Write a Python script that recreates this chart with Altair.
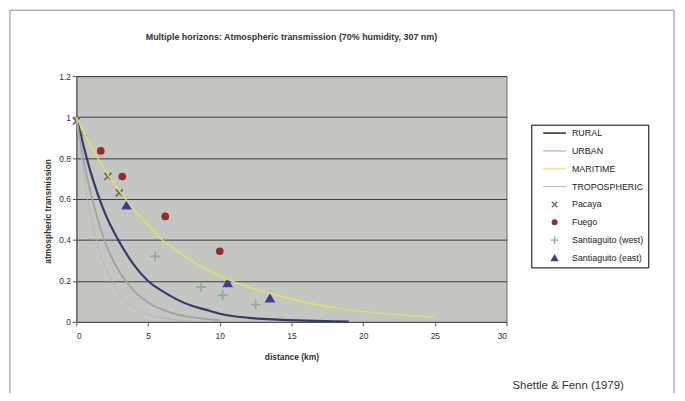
import altair as alt
import pandas as pd
import math

# ---------------- data ----------------
series_names = ["RURAL", "URBAN", "MARITIME", "TROPOSPHERIC",
                "Pacaya", "Fuego", "Santiaguito (west)", "Santiaguito (east)"]
series_colors = ["#343b6c", "#a2a2a2", "#e2e25a", "#b4b4c8",
                 "#7c5a6c", "#9a2a2a", "#8fa8a0", "#3c3ca0"]

rural_x = [0, 1, 2, 3, 4, 5, 6, 7, 8, 9, 10, 12, 14, 16, 18, 19]
rural_y = [1.0, 0.73, 0.53, 0.39, 0.28, 0.20, 0.15, 0.11, 0.08, 0.06, 0.04, 0.02, 0.011, 0.006, 0.003, 0.002]

urban_x = [0, 0.5, 1, 1.5, 2, 3, 4, 5, 6, 7, 8, 10]
urban_y = [1.0, 0.79, 0.63, 0.50, 0.39, 0.245, 0.153, 0.095, 0.06, 0.037, 0.023, 0.009]

maritime_x = [0, 1, 2, 3, 4, 5, 6, 7, 8, 9, 10, 11, 12, 14, 16, 18, 20, 22, 25]
maritime_y = [1.0, 0.86, 0.74, 0.64, 0.55, 0.475, 0.40, 0.35, 0.30, 0.26, 0.225, 0.195, 0.17, 0.13, 0.095, 0.07, 0.05, 0.037, 0.024]

tropo_x = [0, 0.5, 1, 1.5, 2, 3, 4, 5, 6, 8]
tropo_y = [1.0, 0.72, 0.52, 0.37, 0.27, 0.14, 0.07, 0.037, 0.019, 0.005]

pacaya_x = [0.0, 2.2, 3.0]
pacaya_y = [0.98, 0.71, 0.63]
fuego_x = [1.7, 3.2, 6.2, 10.0]
fuego_y = [0.835, 0.71, 0.515, 0.345]
west_x = [0.4, 5.5, 8.7, 10.2, 12.5]
west_y = [0.91, 0.32, 0.17, 0.13, 0.085]
east_x = [3.5, 10.55, 13.5]
east_y = [0.57, 0.19, 0.115]

x_ticks = [0, 5, 10, 15, 20, 25, 30]
y_ticks = [0, 0.2, 0.4, 0.6, 0.8, 1.0, 1.2]

title_text = "Multiple horizons: Atmospheric transmission (70% humidity, 307 nm)"
x_title = "distance (km)"
y_title = "atmospheric transmission"
credit_text = ["Shettle & Fenn (1979)"]

# ---------------- tables ----------------
curves = [("RURAL", rural_x, rural_y), ("URBAN", urban_x, urban_y),
          ("MARITIME", maritime_x, maritime_y), ("TROPOSPHERIC", tropo_x, tropo_y)]
line_rows = []
for name, xs, ys in curves:
    for i, (a, b) in enumerate(zip(xs, ys)):
        line_rows.append({"series": name, "distance": a, "trans": b, "order": i})
lines_df = pd.DataFrame(line_rows)

obs = [("Pacaya", pacaya_x, pacaya_y), ("Fuego", fuego_x, fuego_y),
       ("Santiaguito (west)", west_x, west_y), ("Santiaguito (east)", east_x, east_y)]
pt_rows = []
for name, xs, ys in obs:
    for a, b in zip(xs, ys):
        pt_rows.append({"series": name, "distance": a, "trans": b})
points_df = pd.DataFrame(pt_rows)

# ---------------- symbol shapes ----------------
def poly(pts):
    return "M" + "L".join(f"{x:.3f},{y:.3f}" for x, y in pts) + "Z"

w = 0.17
plus_pts = [(-1, -w), (-w, -w), (-w, -1), (w, -1), (w, -w), (1, -w),
            (1, w), (w, w), (w, 1), (-w, 1), (-w, w), (-1, w)]
s2 = math.sqrt(2)
x_pts = [((a - b) / s2 * 1.3, (a + b) / s2 * 1.3) for a, b in plus_pts]
PLUS = poly([(a * 1.3, b * 1.3) for a, b in plus_pts])
XSHAPE = poly(x_pts)
L = 3.85
LINE_THICK = poly([(-L, -0.28), (L, -0.28), (L, 0.28), (-L, 0.28)])
LINE_THIN = poly([(-L, -0.17), (L, -0.17), (L, 0.17), (-L, 0.17)])
TRI = "M0,-1.3L1.4,1.1L-1.4,1.1Z"
series_shapes = [LINE_THICK, LINE_THIN, LINE_THIN, LINE_THIN, XSHAPE, "circle", PLUS, TRI]

FONT = "Liberation Sans"

legend = alt.Legend(
    title=None, orient="none", legendX=459, legendY=49,
    fillColor="white", strokeColor="#000000", padding=4,
    symbolSize=36, symbolStrokeWidth=0, symbolOffset=15, labelOffset=13,
    rowPadding=8, labelFont=FONT, labelFontSize=9, labelColor="#222222",
    labelLimit=200,
)

x_enc = alt.X("distance:Q", scale=alt.Scale(domain=[0, 30], nice=False, zero=False),
              axis=alt.Axis(values=x_ticks, title=x_title, grid=False, titleX=217, titleY=35,
                            titleAlign="center", titleBaseline="middle", labelPadding=6))
y_enc = alt.Y("trans:Q", scale=alt.Scale(domain=[0, 1.2], nice=False),
              axis=alt.Axis(values=y_ticks, format="~g", title=y_title, grid=True,
                            gridColor="#3c3c3c", gridWidth=1, titleX=-29, titleY=136,
                            titleAngle=270, titleAlign="center", titleBaseline="middle"))

color_scale = alt.Scale(domain=series_names, range=series_colors)
shape_scale = alt.Scale(domain=series_names, range=series_shapes)

points = alt.Chart(points_df).mark_point(filled=True, size=60, opacity=1, strokeWidth=0).encode(
    x=x_enc, y=y_enc,
    color=alt.Color("series:N", scale=color_scale, legend=legend),
    shape=alt.Shape("series:N", scale=shape_scale, legend=legend),
)

lines = alt.Chart(lines_df).mark_line(interpolate="monotone").encode(
    x=x_enc, y=y_enc,
    color=alt.Color("series:N", scale=color_scale, legend=None),
    order="order:Q",
    strokeWidth=alt.StrokeWidth("series:N", scale=alt.Scale(domain=["RURAL", "URBAN", "MARITIME", "TROPOSPHERIC"], range=[2.2, 1, 1.6, 1]), legend=None),
)

frame = alt.Chart(pd.DataFrame({"k": [0]})).mark_rect(fillOpacity=0, stroke="#8a8a8a", strokeWidth=1).encode(
    x=alt.value(-67), x2=alt.value(603), y=alt.value(-66.5), y2=alt.value(400)
)

credit = alt.Chart(pd.DataFrame({"t": credit_text})).mark_text(
    align="left", baseline="middle", font=FONT, fontSize=11.5, color="#333333"
).encode(x=alt.value(440), y=alt.value(313), text="t:N")

chart = alt.layer(frame, points, lines, credit).properties(
    width=434, height=248,
    title=alt.TitleParams(title_text, font=FONT, fontSize=9, fontWeight="bold", color="#333333",
                          anchor="middle", baseline="bottom", offset=-42),
    autosize=alt.AutoSizeParams(type="none"),
    padding={"left": 69, "top": 67, "right": 172, "bottom": 70},
).configure_view(fill="#c4c6c2", stroke="#6a6a6a", strokeWidth=1).configure_axis(
    labelFont=FONT, labelFontSize=8.5, labelColor="#333333", tickColor="#555555",
    domainColor="#555555", tickSize=4, titleFont=FONT, titleFontSize=8.5,
    titleFontWeight="bold", titleColor="#333333",
)

chart.save("out.html", embed_options={"renderer": "svg", "actions": False})
